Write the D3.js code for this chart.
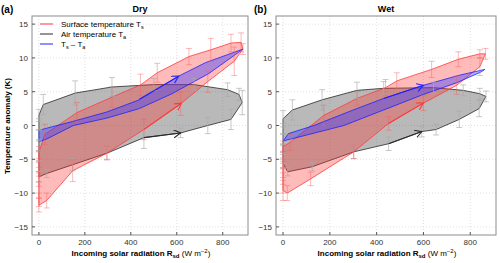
<!DOCTYPE html>
<html>
<head>
<meta charset="utf-8">
<script src="https://d3js.org/d3.v7.min.js"></script>
<style>
body { margin: 0; background: #fff; }
svg text { font-family: 'Liberation Sans', Arial, sans-serif; }
</style>
</head>
<body>
<div id="chart"></div>
<script>
// tick values
var xTicks = [0, 200, 400, 600, 800];
var yTicks = [-15, -10, -5, 0, 5, 10, 15];

// Dry: surface temperature loop (Rsd, anomaly, error)
var dryTsRsd = [0, 34, 147, 296, 457, 617, 735, 850, 888, 880, 836, 748, 653, 515, 442, 318, 165, 26, 0, 0, 0, 0, 0, 0];
var dryTsVal = [-11.8, -11.1, -6.7, -4.1, -0.6, 3.2, 6.5, 9.5, 11.3, 12.3, 12.2, 11.2, 10.2, 7.8, 6.0, 4.2, 1.9, -1.3, -4.0, -5.0, -6.5, -8.0, -9.5, -11.0];
var dryTsErr = [1.0, 1.1, 1.6, 1.0, 1.5, 1.7, 1.6, 2.1, 0.8, 1.4, 1.3, 1.7, 1.2, 1.4, 1.6, 1.5, 1.5, 1.5, 0.9, 1.2, 1.0, 1.0, 1.2, 1.0];

// Dry: air temperature loop
var dryTaRsd = [0, 34, 147, 296, 457, 617, 735, 836, 885, 871, 821, 675, 500, 318, 158, 19, 0, 0, 0, 0, 0, 0];
var dryTaVal = [-7.6, -7.1, -5.8, -4.1, -1.8, -1.1, 0.0, 0.9, 3.4, 4.6, 5.3, 6.05, 6.05, 5.7, 4.8, 3.1, 1.5, 0.2, -1.5, -3.0, -4.5, -6.0];
var dryTaErr = [0.8, 0.6, 0.9, 0.9, 1.6, 0.7, 1.2, 1.5, 1.8, 0.9, 1.0, 0.9, 0.9, 1.4, 1.8, 1.5, 0.9, 0.8, 0.8, 0.9, 0.8, 0.8];

// Dry: Ts - Ta loop
var dryDiffRsd = [0, 147, 296, 437, 608, 725, 888, 740, 579, 437, 296, 150, 34, 0];
var dryDiffVal = [-0.7, 0.6, 2.0, 3.8, 7.3, 9.3, 11.3, 7.7, 4.7, 2.5, 1.1, 0.0, -2.0, -2.4];

// Wet: surface temperature loop
var wetTsRsd = [18, 118, 302, 451, 600, 742, 841, 865, 841, 749, 635, 486, 438, 316, 174, 30, 0, 0, 0, 0, 0, 0, 0];
var wetTsVal = [-10.0, -7.9, -3.9, 0.3, 3.3, 5.95, 8.7, 10.6, 10.6, 9.8, 8.3, 6.6, 5.6, 4.0, 1.5, -2.5, -3.1, -4.0, -5.0, -6.5, -7.5, -8.5, -9.6];
var wetTsErr = [1.1, 1.0, 1.0, 1.0, 1.1, 1.35, 1.3, 0.8, 0.6, 1.1, 1.2, 1.2, 1.2, 1.0, 1.5, 1.2, 0.8, 1.0, 1.2, 1.2, 1.2, 1.5, 1.5];

// Wet: air temperature loop
var wetTaRsd = [0, 20, 125, 302, 451, 593, 654, 753, 838, 867, 841, 770, 643, 430, 316, 167, 40, 0, 0, 0, 0, 0];
var wetTaVal = [-5.6, -6.85, -6.1, -3.9, -2.7, -0.9, -0.6, 0.9, 2.5, 4.3, 4.7, 5.2, 5.6, 5.5, 5.2, 3.8, 2.3, 1.0, -0.5, -2.0, -3.5, -4.8];
var wetTaErr = [0.8, 0.6, 0.6, 1.0, 1.0, 0.8, 0.8, 1.2, 1.2, 0.8, 0.8, 0.8, 0.8, 1.0, 1.2, 1.5, 1.5, 1.2, 0.8, 0.8, 0.8, 0.8];

// Wet: Ts - Ta loop
var wetDiffRsd = [0, 23, 132, 300, 430, 600, 749, 862, 845, 740, 600, 430, 260];
var wetDiffVal = [-2.3, -1.2, 0.0, 2.3, 4.0, 5.95, 7.4, 8.3, 7.9, 6.3, 4.6, 2.3, 0.0];

// direction arrows [rsd0, val0, rsd1, val1]
var dryArrows = {ts: [457, -0.6, 620, 3.3], ta: [457, -1.8, 617, -1.1], diff: [437, 3.9, 608, 7.3]};
var wetArrows = {ts: [451, 0.3, 600, 3.35], ta: [451, -2.7, 593, -0.9], diff: [430, 4.0, 600, 5.95]};

var legendLabels = ['Surface temperature T', 'Air temperature T', 'T'];

var W = 500, H = 263;
var colors = {
    ts: {stroke: '#ff3b3b', fill: 'rgba(255,40,40,0.32)', err: 'rgba(245,95,95,0.55)'},
    ta: {stroke: '#2a2a2a', fill: 'rgba(80,80,80,0.40)', err: 'rgba(170,170,170,0.8)'},
    diff: {stroke: '#2020ff', fill: 'rgba(60,60,255,0.42)'}
};

var svg = d3.select('#chart').append('svg')
    .attr('width', W)
    .attr('height', H);

// arrow heads
var defs = svg.append('defs');
['ts', 'ta', 'diff'].forEach(function(k) {
    defs.append('marker')
        .attr('id', 'head-' + k)
        .attr('markerUnits', 'userSpaceOnUse')
        .attr('markerWidth', 10).attr('markerHeight', 10)
        .attr('refX', 7).attr('refY', 4)
        .attr('orient', 'auto')
        .append('path')
        .attr('d', 'M0,0 L7,4 L0,8')
        .attr('fill', 'none')
        .attr('stroke', colors[k].stroke)
        .attr('stroke-width', 1.1);
});

function zip(rsd, val, err) {
    return rsd.map(function(r, i) { return {r: r, v: val[i], e: err ? err[i] : 0}; });
}

function panel(opts) {
    var left = opts.left, top = 16, w = opts.width, h = 219;
    var g = svg.append('g').attr('transform', 'translate(' + left + ',' + top + ')');

    var x = d3.scaleLinear().domain([-30, 910]).range([0, w]);
    var y = d3.scaleLinear().domain([-16.2, 16.2]).range([h, 0]);

    // grid
    g.append('g').selectAll('line').data(xTicks).enter().append('line')
        .attr('x1', function(d) { return x(d); }).attr('x2', function(d) { return x(d); })
        .attr('y1', 0).attr('y2', h)
        .attr('stroke', '#d8d8d8').attr('stroke-width', 0.8).attr('stroke-dasharray', '1,2');
    g.append('g').selectAll('line').data(yTicks).enter().append('line')
        .attr('y1', function(d) { return y(d); }).attr('y2', function(d) { return y(d); })
        .attr('x1', 0).attr('x2', w)
        .attr('stroke', '#d8d8d8').attr('stroke-width', 0.8).attr('stroke-dasharray', '1,2');

    var line = d3.line()
        .x(function(d) { return x(d.r); })
        .y(function(d) { return y(d.v); })
        .curve(d3.curveLinearClosed);

    var ta = zip(opts.taRsd, opts.taVal, opts.taErr);
    var ts = zip(opts.tsRsd, opts.tsVal, opts.tsErr);
    var diff = zip(opts.diffRsd, opts.diffVal);

    // loops
    [[ta, 'ta'], [ts, 'ts'], [diff, 'diff']].forEach(function(p) {
        g.append('path').datum(p[0])
            .attr('d', line)
            .attr('fill', colors[p[1]].fill)
            .attr('stroke', colors[p[1]].stroke)
            .attr('stroke-width', 0.8)
            .attr('stroke-linejoin', 'round');
    });

    // error bars
    [[ta, 'ta'], [ts, 'ts']].forEach(function(p) {
        var eb = g.append('g').selectAll('g').data(p[0]).enter().append('g')
            .attr('stroke', colors[p[1]].err).attr('stroke-width', 0.8);
        eb.append('line')
            .attr('x1', function(d) { return x(d.r); }).attr('x2', function(d) { return x(d.r); })
            .attr('y1', function(d) { return y(d.v - d.e); }).attr('y2', function(d) { return y(d.v + d.e); });
        eb.append('line')
            .attr('x1', function(d) { return x(d.r) - 3; }).attr('x2', function(d) { return x(d.r) + 3; })
            .attr('y1', function(d) { return y(d.v - d.e); }).attr('y2', function(d) { return y(d.v - d.e); });
        eb.append('line')
            .attr('x1', function(d) { return x(d.r) - 3; }).attr('x2', function(d) { return x(d.r) + 3; })
            .attr('y1', function(d) { return y(d.v + d.e); }).attr('y2', function(d) { return y(d.v + d.e); });
    });

    // arrows
    ['ta', 'ts', 'diff'].forEach(function(k) {
        var a = opts.arrows[k];
        g.append('line')
            .attr('x1', x(a[0])).attr('y1', y(a[1]))
            .attr('x2', x(a[2])).attr('y2', y(a[3]))
            .attr('stroke', colors[k].stroke).attr('stroke-width', 1.1)
            .attr('marker-end', 'url(#head-' + k + ')');
    });

    // frame
    g.append('rect').attr('width', w).attr('height', h)
        .attr('fill', 'none').attr('stroke', '#8c8c8c').attr('stroke-width', 1);

    // inward ticks + labels
    var xt = g.append('g').selectAll('g').data(xTicks).enter().append('g');
    xt.append('line')
        .attr('x1', function(d) { return x(d); }).attr('x2', function(d) { return x(d); })
        .attr('y1', h).attr('y2', h - 3).attr('stroke', '#555');
    xt.append('text').text(function(d) { return d; })
        .attr('x', function(d) { return x(d); }).attr('y', h + 10)
        .attr('text-anchor', 'middle').attr('font-size', 8).attr('fill', '#333');

    var yt = g.append('g').selectAll('g').data(yTicks).enter().append('g');
    yt.append('line')
        .attr('y1', function(d) { return y(d); }).attr('y2', function(d) { return y(d); })
        .attr('x1', 0).attr('x2', 3).attr('stroke', '#555');
    yt.append('text').text(function(d) { return d < 0 ? '\u2212' + (-d) : d; })
        .attr('x', -4).attr('y', function(d) { return y(d) + 3; })
        .attr('text-anchor', 'end').attr('font-size', 8).attr('fill', '#333');

    // title and panel letter
    svg.append('text').text(opts.title)
        .attr('x', left + w / 2).attr('y', 12)
        .attr('text-anchor', 'middle').attr('font-size', 9).attr('font-weight', 'bold');
    svg.append('text').text(opts.letter)
        .attr('x', opts.letterX).attr('y', 13)
        .attr('font-size', 10).attr('font-weight', 'bold');

    // x axis label
    var xl = svg.append('text')
        .attr('x', left + w / 2 + 1).attr('y', 256)
        .attr('text-anchor', 'middle').attr('font-size', 8);
    xl.append('tspan').text('Incoming solar radiation R').attr('font-weight', 'bold');
    xl.append('tspan').text('sd').attr('font-weight', 'bold').attr('font-size', 6).attr('dy', 2);
    xl.append('tspan').text(' (W m').attr('dy', -2);
    xl.append('tspan').text('\u22122').attr('font-size', 6).attr('dy', -3);
    xl.append('tspan').text(')').attr('dy', 3);

    return g;
}

panel({
    left: 32, width: 216, title: 'Dry', letter: '(a)', letterX: 1,
    tsRsd: dryTsRsd, tsVal: dryTsVal, tsErr: dryTsErr,
    taRsd: dryTaRsd, taVal: dryTaVal, taErr: dryTaErr,
    diffRsd: dryDiffRsd, diffVal: dryDiffVal, arrows: dryArrows
});
panel({
    left: 276, width: 220, title: 'Wet', letter: '(b)', letterX: 254,
    tsRsd: wetTsRsd, tsVal: wetTsVal, tsErr: wetTsErr,
    taRsd: wetTaRsd, taVal: wetTaVal, taErr: wetTaErr,
    diffRsd: wetDiffRsd, diffVal: wetDiffVal, arrows: wetArrows
});

// y axis label
svg.append('text').text('Temperature anomaly (K)')
    .attr('transform', 'translate(10,126) rotate(-90)')
    .attr('text-anchor', 'middle').attr('font-size', 8).attr('font-weight', 'bold');

// legend
var lg = svg.append('g').attr('transform', 'translate(40,24)');
var subs = ['s', 'a', null];
['ts', 'ta', 'diff'].forEach(function(k, i) {
    var row = lg.append('g').attr('transform', 'translate(0,' + (i * 10) + ')');
    row.append('line').attr('x1', 0).attr('x2', 13).attr('y1', 0).attr('y2', 0)
        .attr('stroke', colors[k].stroke).attr('stroke-width', 1);
    var t = row.append('text').attr('x', 21).attr('y', 3).attr('font-size', 8);
    t.append('tspan').text(legendLabels[i]);
    if (subs[i]) {
        t.append('tspan').text(subs[i]).attr('font-size', 5.5).attr('dy', 1.5);
    } else {
        t.append('tspan').text('s').attr('font-size', 5.5).attr('dy', 1.5);
        t.append('tspan').text(' \u2013 T').attr('dy', -1.5);
        t.append('tspan').text('a').attr('font-size', 5.5).attr('dy', 1.5);
    }
});
</script>
</body>
</html>
